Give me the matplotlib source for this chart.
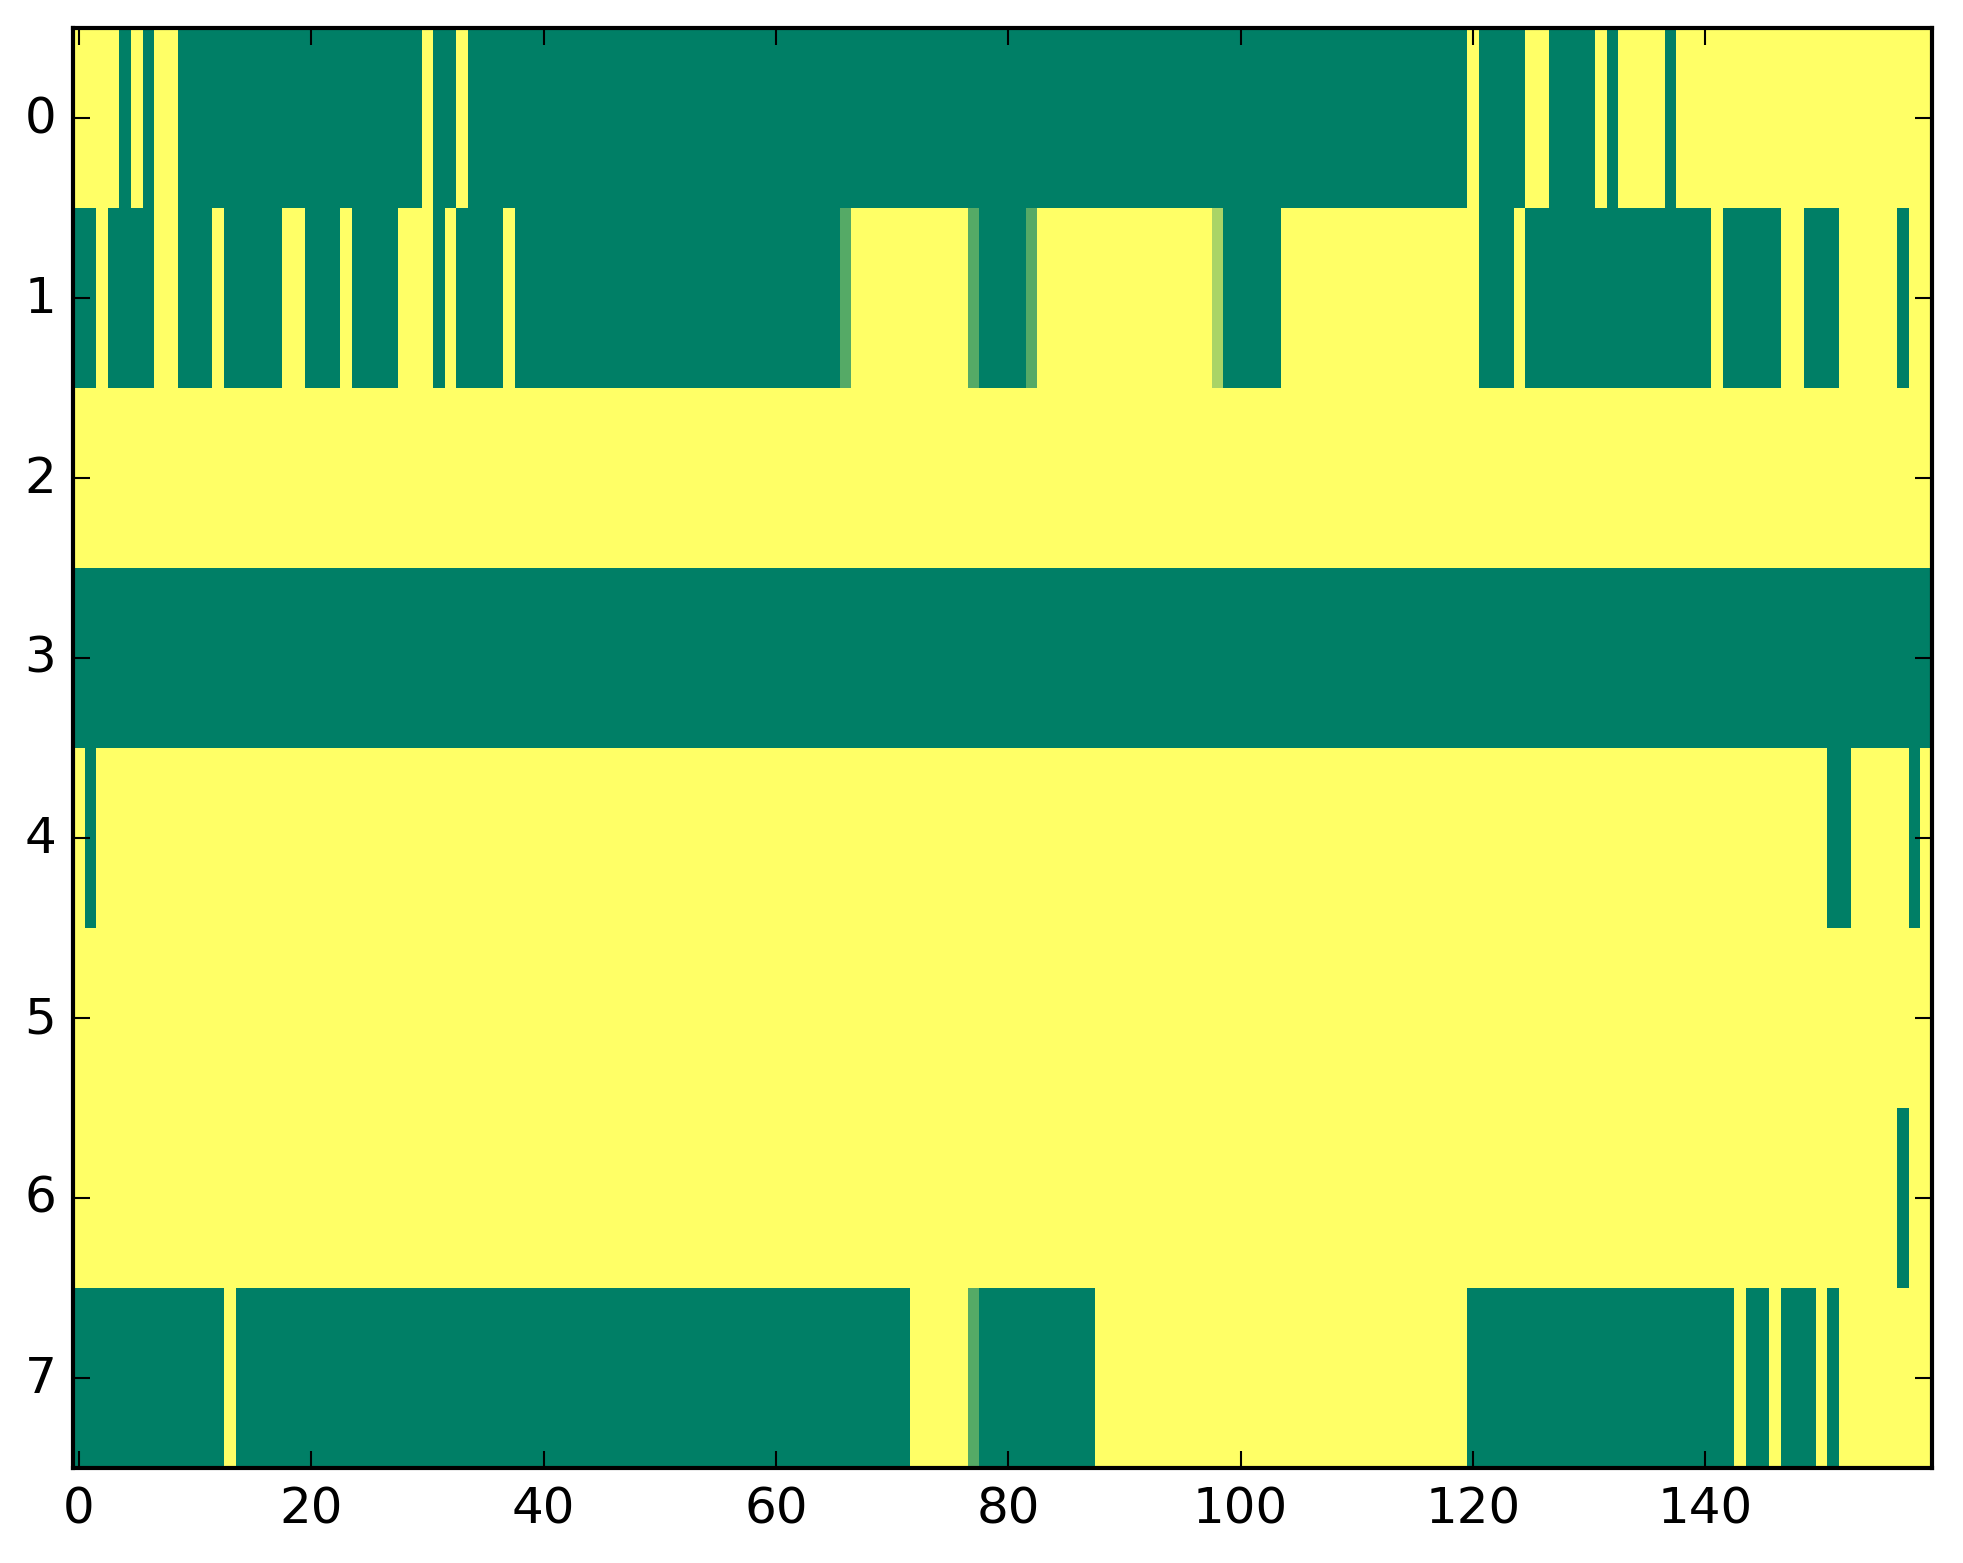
import numpy as np
import matplotlib
matplotlib.use('Agg')
import matplotlib.pyplot as plt

# each row as (value, run length) pairs, 160 columns per row
# 1 = yellow, 0 = green, a couple of cells sit in between
row0 = [(1, 4), (0, 1), (1, 1), (0, 1), (1, 2), (0, 21), (1, 1), (0, 2), (1, 1), (0, 86),
        (1, 1), (0, 4), (1, 2), (0, 4), (1, 1), (0, 1), (1, 4), (0, 1), (1, 22)]
row1 = [(0, 2), (1, 1), (0, 4), (1, 2), (0, 3), (1, 1), (0, 5), (1, 2), (0, 3), (1, 1),
        (0, 4), (1, 3), (0, 1), (1, 1), (0, 4), (1, 1), (0, 28), (1/3, 1), (1, 10), (1/3, 1),
        (0, 4), (1/3, 1), (1, 15), (2/3, 1), (0, 5), (1, 17), (0, 3), (1, 1), (0, 16), (1, 1),
        (0, 5), (1, 2), (0, 3), (1, 5), (0, 1), (1, 2)]
row2 = [(1, 160)]
row3 = [(0, 160)]
row4 = [(1, 1), (0, 1), (1, 149), (0, 2), (1, 5), (0, 1), (1, 1)]
row5 = [(1, 160)]
row6 = [(1, 157), (0, 1), (1, 2)]
row7 = [(0, 13), (1, 1), (0, 58), (1, 5), (1/3, 1), (0, 10), (1, 32), (0, 23), (1, 1),
        (0, 2), (1, 1), (0, 3), (1, 1), (0, 1), (1, 8)]

rows = [row0, row1, row2, row3, row4, row5, row6, row7]
xticks = [0, 20, 40, 60, 80, 100, 120, 140]
yticks = list(range(8))

def expand(runs):
    vals = [v for v, n in runs]
    counts = [n for v, n in runs]
    return np.repeat(vals, counts)

data = np.array([expand(r) for r in rows])

plt.style.use('classic')
fig = plt.figure(figsize=(1963 / 300, 1564 / 300), dpi=300)
ax = fig.add_axes([73 / 1963, 95 / 1564, 1859 / 1963, 1440 / 1564])
ax.imshow(data, cmap='summer', vmin=0, vmax=1, aspect='auto', interpolation='nearest')
ax.set_xticks(xticks)
ax.set_yticks(yticks)
ax.set_xlim(-0.5, data.shape[1] - 0.5)
ax.set_ylim(data.shape[0] - 0.5, -0.5)

fig.savefig('out.png', dpi=300)
